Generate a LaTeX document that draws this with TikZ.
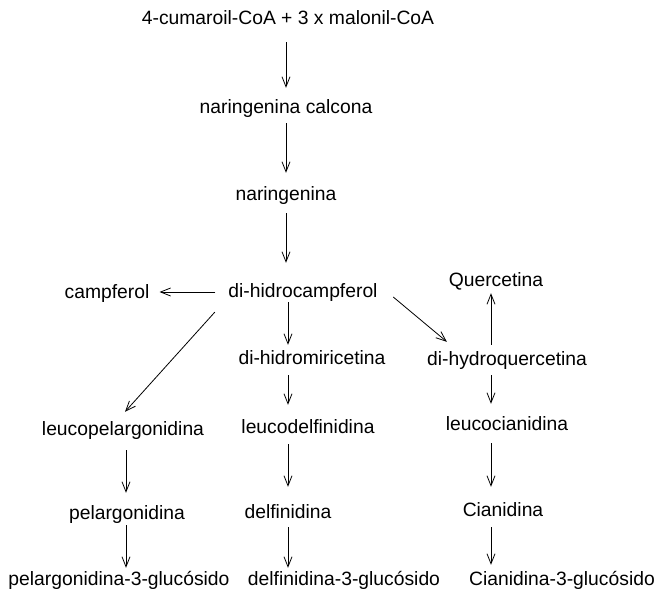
\documentclass[tikz,border=0pt]{standalone}
\usepackage{fontspec}
\setmainfont{Liberation Sans}
\usetikzlibrary{arrows.meta}
\tikzset{
  compound/.style={
    anchor=base,
    inner sep=0pt,
    text height=14pt,
    text depth=4pt,
    font=\fontsize{19.3}{23}\selectfont
  },
  reaction/.style={
    line width=0.8pt,
    -{Straight Barb[length=10pt,width=8pt]}
  }
}

\begin{document}
\begin{tikzpicture}[x=1pt,y=-1pt]
  \useasboundingbox (0,0) rectangle (656,594);
  % x of the arrows in the three lower columns
  \coordinate (col-pel) at (126,0);
  \coordinate (col-del) at (288,0);
  \coordinate (col-cia) at (491,0);
  % Main chain
  \node[compound] (cumaroil) at (288,25) {4-cumaroil-CoA + 3 x malonil-CoA};
  \node[compound] (calcona) at (286,113) {naringenina calcona};
  \node[compound] (naringenina) at (286,200) {naringenina};
  \node[compound] (dhcamp) at (303,297) {di-hidrocampferol};
  \node[compound] (campferol) at (107,298) {campferol};
  % Branches
  \node[compound] (quercetina) at (496,286) {Quercetina};
  \node[compound] (dhmir) at (312,364) {di-hidromiricetina};
  \node[compound] (dhquer) at (507,365) {di-hydroquercetina};
  \node[compound] (leucopel) at (123,435) {leucopelargonidina};
  \node[compound] (leucodel) at (308,433) {leucodelfinidina};
  \node[compound] (leucocia) at (507,430) {leucocianidina};
  \node[compound] (pelargonidina) at (127,519) {pelargonidina};
  \node[compound] (delfinidina) at (288,518) {delfinidina};
  \node[compound] (cianidina) at (503,516) {Cianidina};
  \node[compound] (pelgluc) at (119,585) {pelargonidina-3-glucósido};
  \node[compound] (delgluc) at (344,585) {delfinidina-3-glucósido};
  \node[compound] (ciagluc) at (562,585) {Cianidina-3-glucósido};
  % Arrows of the main chain
  \draw[reaction, shorten <=13pt, shorten >=11pt] (calcona.north |- cumaroil.south) -- (calcona.north);
  \draw[reaction, shorten <=6pt, shorten >=13pt] (calcona.south) -- (naringenina.north);
  \draw[reaction, shorten <=9pt, shorten >=20pt] (naringenina.south) -- (naringenina.south |- dhcamp.north);
  \draw[reaction, shorten <=13pt, shorten >=10pt] (dhcamp.west) -- (campferol.east |- dhcamp.west);
  % Diagonal arrows
  \draw[reaction] ([shift={(-13.5pt,-11pt)}]dhcamp.south west) -- ([shift={(2pt,9pt)}]leucopel.north);
  \draw[reaction] ([shift={(15.5pt,-5pt)}]dhcamp.east) -- ([shift={(20pt,9pt)}]dhquer.north west);
  \draw[reaction, shorten <=6pt, shorten >=3pt] (dhquer.north -| col-cia) -- (quercetina.south -| col-cia);
  % Column arrows
  \foreach \from/\to/\col/\s/\e in {
      dhcamp/dhmir/col-del/1/5,
      dhmir/leucodel/col-del/7/14,
      dhquer/leucocia/col-cia/6/12,
      leucopel/pelargonidina/col-pel/11/12,
      leucodel/delfinidina/col-del/7/17,
      leucocia/cianidina/col-cia/9/15,
      pelargonidina/pelgluc/col-pel/2/3,
      delfinidina/delgluc/col-del/5/3,
      cianidina/ciagluc/col-cia/7/6}{
    \draw[reaction, shorten <=\s pt, shorten >=\e pt] (\from.south -| \col) -- (\to.north -| \col);
  }
\end{tikzpicture}
\end{document}
